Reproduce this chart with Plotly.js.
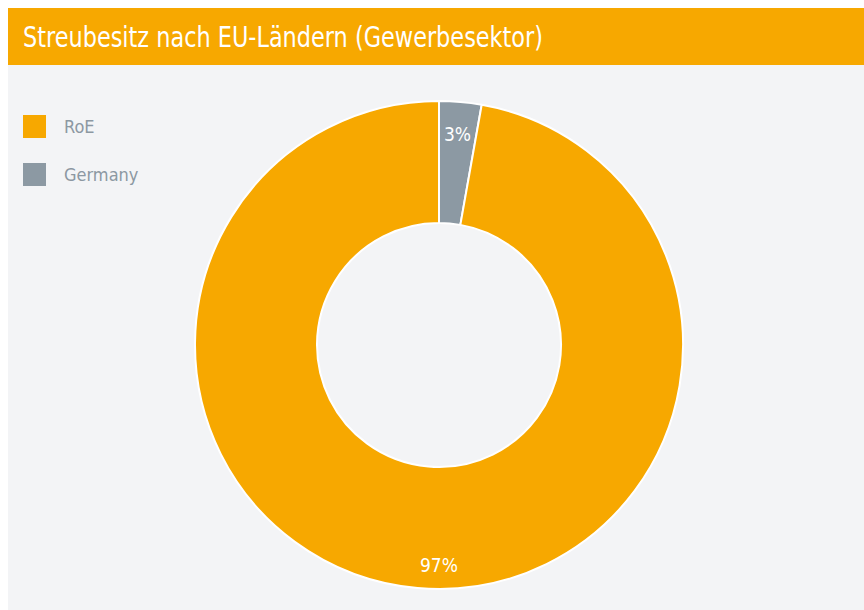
<!DOCTYPE html>
<html>
<head>
<meta charset="utf-8">
<script src="https://cdn.plot.ly/plotly-3.0.1.min.js"></script>
<style>html,body{margin:0;padding:0;background:#fff;}#chart{width:864px;height:610px;}</style>
</head>
<body>
<div id="chart"></div>
<script>
const chartTitle = "Streubesitz nach EU-Ländern (Gewerbesektor)";
const labels = ["RoE", "Germany"];
const values = [97.2, 2.8];
const colors = ["#f7a800", "#8c99a3"];

const W = 864, H = 610;
const FONT = "'DejaVu Sans Condensed', 'Liberation Sans Narrow', 'Roboto', sans-serif";
const px = v => v / W;
const py = v => 1 - v / H;

const shapes = [
  {type: "rect", xref: "paper", yref: "paper", x0: px(8), x1: 1, y0: 0, y1: py(65), fillcolor: "#f3f4f6", line: {width: 0}, layer: "below"},
  {type: "rect", xref: "paper", yref: "paper", x0: px(8), x1: 1, y0: py(65), y1: py(8), fillcolor: "#f7a800", line: {width: 0}, layer: "below"}
];
const annotations = [];
labels.forEach((lab, i) => {
  const cy = 126.5 + i * 48;
  shapes.push({type: "rect", xref: "paper", yref: "paper", x0: px(23), x1: px(46), y0: py(cy + 11.5), y1: py(cy - 11.5), fillcolor: colors[i], line: {width: 0}});
  annotations.push({xref: "paper", yref: "paper", x: px(62), y: py(cy), xanchor: "left", yanchor: "middle", text: lab, showarrow: false, font: {family: FONT, size: 18, color: "#8c98a2"}});
});

// slices drawn from 12 o'clock clockwise: Germany first, then RoE
const order = [1, 0];
const sliceLabels = order.map(i => labels[i]);
const sliceValues = order.map(i => values[i]);
const sliceColors = order.map(i => colors[i]);

// percentage labels near the outer edge of each slice (positions derived from values)
const CX = 439, CY = 345, RLAB = 212;
const total = values.reduce((a, b) => a + b, 0);
let start = 0;
sliceValues.forEach(v => {
  const frac = v / total;
  const mid = (start + frac / 2) * 2 * Math.PI;
  start += frac;
  const r = frac > 0.5 ? RLAB + 9 : RLAB;
  const xx = frac > 0.5 ? CX : CX + r * Math.sin(mid);
  const yy = CY - r * Math.cos(mid);
  annotations.push({xref: "paper", yref: "paper", x: px(xx), y: py(yy), xanchor: "center", yanchor: "middle",
    text: Math.round(frac * 100) + "%", showarrow: false, font: {family: FONT, size: 19, color: "#ffffff"}});
});

const data = [{
  type: "pie",
  labels: sliceLabels,
  values: sliceValues,
  hole: 0.5,
  sort: false,
  direction: "clockwise",
  rotation: 0,
  marker: {colors: sliceColors, line: {color: "#ffffff", width: 2}},
  textinfo: "none",
  showlegend: false,
  hoverinfo: "label+percent",
  domain: {x: [px(195), px(683)], y: [(265 - 244) / H, (265 + 244) / H]}
}];

const layout = {
  width: W, height: H,
  margin: {l: 0, r: 0, t: 0, b: 0},
  paper_bgcolor: "#ffffff",
  showlegend: false,
  title: {text: chartTitle, x: px(23), xanchor: "left", xref: "paper", y: py(37), yanchor: "middle", yref: "paper", font: {family: FONT, size: 29, color: "#ffffff"}},
  shapes: shapes,
  annotations: annotations
};

Plotly.newPlot("chart", data, layout, {displayModeBar: false, responsive: false}).then(gd => {
  const t = gd.querySelector(".gtitle");
  if (t) {
    t.setAttribute("textLength", "520");
    t.setAttribute("lengthAdjust", "spacingAndGlyphs");
  }
});
</script>
</body>
</html>
